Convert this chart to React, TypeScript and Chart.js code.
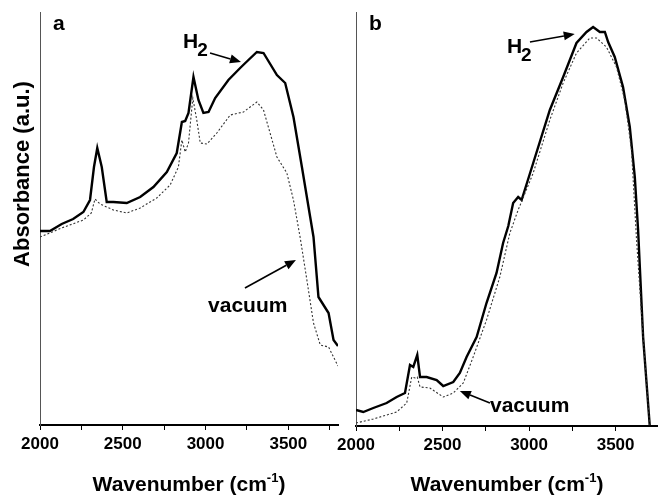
import React, { useEffect, useRef } from "react";
import { Chart, registerables } from "chart.js";

Chart.register(...registerables);

const FONT = '"Liberation Sans", Arial, Helvetica, sans-serif';

// ---------- Panel a data ----------
const A_H2_WN = [2000, 2060, 2131, 2200, 2262, 2302, 2326, 2346, 2373, 2403, 2443, 2524, 2605, 2685, 2766, 2826, 2857, 2877, 2897, 2927, 2957, 2987, 3018, 3058, 3138, 3209, 3259, 3310, 3350, 3431, 3481, 3531, 3582, 3632, 3652, 3682, 3743, 3773, 3800];
const A_H2_ABS = [194, 194, 201, 206, 213, 225, 258, 277, 258, 223, 223, 222, 228, 238, 253, 272, 303, 304, 312, 348, 325, 312, 313, 327, 345, 357, 365, 373, 372, 350, 342, 308, 258, 208, 188, 128, 112, 85, 79];
const A_VAC_WN = [2000, 2131, 2262, 2310, 2332, 2363, 2443, 2524, 2605, 2705, 2786, 2836, 2857, 2877, 2897, 2923, 2947, 2968, 3008, 3068, 3149, 3229, 3310, 3350, 3431, 3491, 3531, 3572, 3612, 3652, 3693, 3743, 3773, 3800];
const A_VAC_ABS = [188, 197, 205, 212, 226, 221, 215, 212, 217, 227, 240, 258, 285, 273, 282, 327, 305, 282, 281, 292, 310, 313, 323, 315, 268, 252, 225, 187, 145, 102, 80, 78, 68, 59];

// ---------- Panel b data ----------
const B_H2_WN = [2000, 2042, 2100, 2177, 2235, 2283, 2312, 2331, 2354, 2370, 2408, 2466, 2504, 2562, 2600, 2639, 2697, 2754, 2812, 2850, 2880, 2908, 2937, 2957, 3024, 3120, 3197, 3274, 3332, 3370, 3409, 3438, 3457, 3495, 3543, 3582, 3611, 3630, 3659, 3697];
const B_H2_ABS = [16, 14, 18, 23, 29, 33, 61, 59, 71, 49, 49, 46, 40, 44, 53, 69, 89, 123, 153, 183, 200, 223, 229, 226, 263, 316, 349, 383, 394, 399, 394, 394, 384, 369, 339, 299, 249, 196, 89, 1];
const B_VAC_WN = [2000, 2100, 2235, 2293, 2322, 2341, 2354, 2370, 2427, 2504, 2562, 2620, 2677, 2754, 2831, 2889, 2937, 3024, 3120, 3197, 3274, 3351, 3390, 3447, 3505, 3553, 3592, 3621, 3659, 3697];
const B_VAC_ABS = [3, 7, 14, 23, 49, 48, 49, 39, 38, 29, 33, 43, 69, 106, 149, 193, 216, 253, 306, 343, 373, 388, 388, 379, 359, 326, 276, 186, 89, 1];

// ---------- axes ----------
const X_MIN = 2000;
const A_X_MAX = 3800;
const B_X_MAX = 3745;
const A_Y_MAX = 413;
const B_Y_MAX = 414;
const A_X_TICKS = [2000, 2250, 2500, 2750, 3000, 3250, 3500, 3750];
const B_X_TICKS = [2000, 2250, 2500, 2750, 3000, 3250, 3500];
const X_TICK_LABELS = ["2000", "2500", "3000", "3500"];

// ---------- texts ----------
const X_TITLE = "Wavenumber (cm";
const X_TITLE_SUP = "-1";
const Y_TITLE = "Absorbance (a.u.)";
const PANEL_LABELS = ["a", "b"];

// annotations: [text, subscript, wavenumber, absorbance(baseline)]
const A_NOTES: [string, string, number, number][] = [
  ["H", "2", 2864, 377],
  ["vacuum", "", 3015, 113],
];
const A_ARROWS: [number, number, number, number][] = [
  [3027, 372, 3214, 363],
  [3238, 137, 3546, 165],
];
const B_NOTES: [string, string, number, number][] = [
  ["H", "2", 2872, 373],
  ["vacuum", "", 2774, 14],
];
const B_ARROWS: [number, number, number, number][] = [
  [3005, 384, 3264, 392],
  [2774, 23, 2600, 35],
];

const pts = (xs: number[], ys: number[]) => xs.map((x, i) => ({ x, y: ys[i] }));

function drawArrow(ctx: CanvasRenderingContext2D, x1: number, y1: number, x2: number, y2: number) {
  const ang = Math.atan2(y2 - y1, x2 - x1);
  const head = 11;
  const hw = 4.5;
  const bx = x2 - head * Math.cos(ang);
  const by = y2 - head * Math.sin(ang);
  ctx.beginPath();
  ctx.moveTo(x1, y1);
  ctx.lineTo(bx, by);
  ctx.lineWidth = 1.6;
  ctx.strokeStyle = "#000";
  ctx.stroke();
  ctx.beginPath();
  ctx.moveTo(x2, y2);
  ctx.lineTo(bx + hw * Math.sin(ang), by - hw * Math.cos(ang));
  ctx.lineTo(bx - hw * Math.sin(ang), by + hw * Math.cos(ang));
  ctx.closePath();
  ctx.fillStyle = "#000";
  ctx.fill();
}

function makeDecor(panel: string, notes: [string, string, number, number][], arrows: [number, number, number, number][], showY: boolean) {
  return {
    id: "decor",
    afterDraw(chart: any) {
      const ctx: CanvasRenderingContext2D = chart.ctx;
      const ca = chart.chartArea;
      const xs = chart.scales.x;
      const ys = chart.scales.y;
      ctx.save();
      ctx.fillStyle = "#000";
      ctx.font = `bold 21px ${FONT}`;
      ctx.textBaseline = "alphabetic";
      ctx.textAlign = "left";
      ctx.fillText(panel, ca.left + 13, ca.top + 18);

      for (const [t, sub, wx, wy] of notes) {
        const px = xs.getPixelForValue(wx);
        const py = ys.getPixelForValue(wy);
        ctx.font = `bold 21px ${FONT}`;
        ctx.fillText(t, px, py);
        if (sub) {
          const w = ctx.measureText(t).width;
          ctx.font = `bold 19px ${FONT}`;
          ctx.fillText(sub, px + w - 1, py + 8);
        }
      }
      for (const [x1, y1, x2, y2] of arrows) {
        drawArrow(ctx, xs.getPixelForValue(x1), ys.getPixelForValue(y1), xs.getPixelForValue(x2), ys.getPixelForValue(y2));
      }

      const big = `bold 21px ${FONT}`;
      const small = `bold 13px ${FONT}`;
      ctx.font = big;
      const w1 = ctx.measureText(X_TITLE).width;
      const w3 = ctx.measureText(")").width;
      ctx.font = small;
      const w2 = ctx.measureText(X_TITLE_SUP).width;
      const total = w1 + w2 + w3;
      const cx = (ca.left + ca.right) / 2;
      let sx = cx - total / 2;
      const by = 491;
      ctx.font = big;
      ctx.fillText(X_TITLE, sx, by);
      sx += w1;
      ctx.font = small;
      ctx.fillText(X_TITLE_SUP, sx, by - 9);
      sx += w2;
      ctx.font = big;
      ctx.fillText(")", sx, by);

      if (showY) {
        ctx.translate(29, 174);
        ctx.rotate(-Math.PI / 2);
        ctx.font = `bold 22px ${FONT}`;
        ctx.textAlign = "center";
        ctx.fillText(Y_TITLE, 0, 0);
      }
      ctx.restore();
    },
  };
}

function buildConfig(opts: {
  h2: { x: number; y: number }[];
  vac: { x: number; y: number }[];
  xMax: number;
  yMax: number;
  xTicks: number[];
  padLeft: number;
  padRight: number;
  xHeight: number;
  decor: any;
}) {
  return {
    type: "line" as const,
    data: {
      datasets: [
        {
          label: "vacuum",
          data: opts.vac,
          borderColor: "#333",
          borderWidth: 1.1,
          borderDash: [2, 2],
          pointRadius: 0,
          tension: 0,
        },
        {
          label: "H2",
          data: opts.h2,
          borderColor: "#000",
          borderWidth: 2.4,
          pointRadius: 0,
          tension: 0,
        },
      ],
    },
    options: {
      responsive: false,
      animation: false as const,
      layout: { padding: { left: opts.padLeft, right: opts.padRight, top: 12, bottom: 0 } },
      plugins: { legend: { display: false }, tooltip: { enabled: false }, title: { display: false } },
      scales: {
        x: {
          type: "linear" as const,
          min: X_MIN,
          max: opts.xMax,
          afterFit: (s: any) => {
            s.height = opts.xHeight;
          },
          afterBuildTicks: (s: any) => {
            s.ticks = opts.xTicks.map((value) => ({ value }));
          },
          ticks: {
            autoSkip: false,
            maxRotation: 0,
            minRotation: 0,
            padding: 4,
            color: "#000",
            font: { family: FONT, size: 17, weight: "bold" as const },
            callback: (v: any) => {
              const s = String(Math.round(Number(v)));
              return X_TICK_LABELS.includes(s) ? s : "";
            },
          },
          grid: { display: true, drawOnChartArea: false, drawTicks: true, tickLength: 5, color: "#000", lineWidth: 1 },
          border: { display: true, color: "#000", width: 2 },
        },
        y: {
          type: "linear" as const,
          min: 0,
          max: opts.yMax,
          afterFit: (s: any) => {
            s.width = 0;
          },
          ticks: { display: false },
          grid: { display: false },
          border: { display: true, color: "#555", width: 1 },
        },
      },
    },
    plugins: [opts.decor],
  };
}

export default function App() {
  const aRef = useRef<HTMLCanvasElement>(null);
  const bRef = useRef<HTMLCanvasElement>(null);

  useEffect(() => {
    const ca = new Chart(
      aRef.current!,
      buildConfig({
        h2: pts(A_H2_WN, A_H2_ABS),
        vac: pts(A_VAC_WN, A_VAC_ABS),
        xMax: A_X_MAX,
        yMax: A_Y_MAX,
        xTicks: A_X_TICKS,
        padLeft: 40,
        padRight: 2,
        xHeight: 71,
        decor: makeDecor(PANEL_LABELS[0], A_NOTES, A_ARROWS, true),
      }) as any
    );
    const cb = new Chart(
      bRef.current!,
      buildConfig({
        h2: pts(B_H2_WN, B_H2_ABS),
        vac: pts(B_VAC_WN, B_VAC_ABS),
        xMax: B_X_MAX,
        yMax: B_Y_MAX,
        xTicks: B_X_TICKS,
        padLeft: 36,
        padRight: 0,
        xHeight: 70,
        decor: makeDecor(PANEL_LABELS[1], B_NOTES, B_ARROWS, false),
      }) as any
    );
    return () => {
      ca.destroy();
      cb.destroy();
    };
  }, []);

  return (
    <div style={{ position: "absolute", left: 0, top: 0, width: 658, height: 496, background: "#fff" }}>
      <canvas ref={aRef} width={340} height={496} style={{ position: "absolute", left: 0, top: 0 }} />
      <canvas ref={bRef} width={338} height={496} style={{ position: "absolute", left: 320, top: 0 }} />
    </div>
  );
}
